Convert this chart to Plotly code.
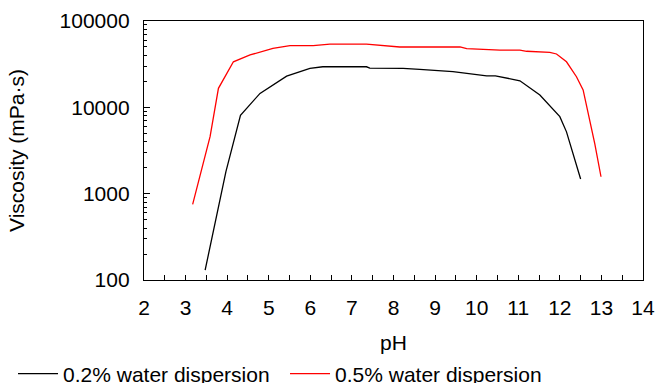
import plotly.graph_objects as go

# Data
ph_02 = [3.47, 3.97, 4.32, 4.79, 5.43, 5.99, 6.3, 7.35, 7.43, 8.23, 8.63, 9.43, 10.24, 10.45, 11.04, 11.52, 12.0, 12.16, 12.5]
visc_02 = [130, 1800, 8100, 14500, 23000, 28300, 29500, 29500, 28500, 28300, 27500, 25900, 23200, 23200, 20300, 13900, 7800, 5200, 1480]

ph_05 = [3.17, 3.59, 3.79, 4.15, 4.55, 5.1, 5.51, 6.07, 6.47, 7.35, 8.15, 9.6, 9.76, 10.56, 11.04, 11.2, 11.76, 11.92, 12.16, 12.4, 12.56, 12.68, 12.84, 12.99]
visc_05 = [750, 4600, 16600, 33700, 40400, 48200, 51800, 51800, 54100, 54000, 50000, 50000, 47800, 46100, 46100, 44600, 43400, 41500, 33700, 22600, 15900, 8500, 3800, 1570]

names = ["0.2% water dispersion", "0.5% water dispersion"]
colors = ["#000000", "#ff0000"]

x_ticks = list(range(2, 15))
x_minor = [i + 0.5 for i in range(2, 14)]
y_ticks = [100, 1000, 10000, 100000]
y_tick_text = ["100", "1000", "10000", "100000"]
y_minor = [m * 10 ** e for e in (2, 3, 4) for m in range(2, 10)]

FONT = "Liberation Sans, Arial, sans-serif"
FS = 21

fig = go.Figure()
for xs, ys, nm, c in [(ph_02, visc_02, names[0], colors[0]), (ph_05, visc_05, names[1], colors[1])]:
    fig.add_trace(go.Scatter(x=xs, y=ys, mode="lines", name=nm,
                             line=dict(color=c, width=1.3)))

fig.update_layout(
    template="none",
    width=656, height=383,
    margin=dict(l=144, r=13, t=21, b=103, autoexpand=False),
    paper_bgcolor="white", plot_bgcolor="white",
    font=dict(family=FONT, size=FS, color="black"),
    showlegend=True,
    legend=dict(orientation="h", xref="paper", yref="paper",
                x=-0.2625, y=-0.363, xanchor="left", yanchor="middle",
                font=dict(size=FS), entrywidth=217, entrywidthmode="pixels",
                itemwidth=40, bgcolor="rgba(0,0,0,0)", borderwidth=0),
)
fig.update_xaxes(
    automargin=False,
    range=[2, 14], tickvals=x_ticks, ticktext=[str(v) for v in x_ticks],
    ticks="inside", ticklen=5, tickcolor="black", tickwidth=1,
    ticklabelstandoff=9,
    minor=dict(tickvals=x_minor, ticks="inside", ticklen=5, tickcolor="black", tickwidth=1),
    showline=True, linecolor="black", linewidth=1.3, mirror=True,
    showgrid=False, zeroline=False,
    title=dict(text="pH", font=dict(size=FS), standoff=16),
)
fig.update_yaxes(
    automargin=False,
    type="log", range=[2, 5], tickvals=y_ticks, ticktext=y_tick_text,
    ticks="inside", ticklen=6, tickcolor="black", tickwidth=1,
    ticklabelstandoff=9,
    minor=dict(tickvals=y_minor, ticks="inside", ticklen=3, tickcolor="black", tickwidth=1),
    showline=True, linecolor="black", linewidth=1.3, mirror=True,
    showgrid=False, zeroline=False,
    title=dict(text="Viscosity (mPa·s)", font=dict(size=FS), standoff=29),
)

fig.write_html("out.html", config={"displayModeBar": False},
               post_script="document.body.style.margin='0';document.body.style.overflow='hidden';")
